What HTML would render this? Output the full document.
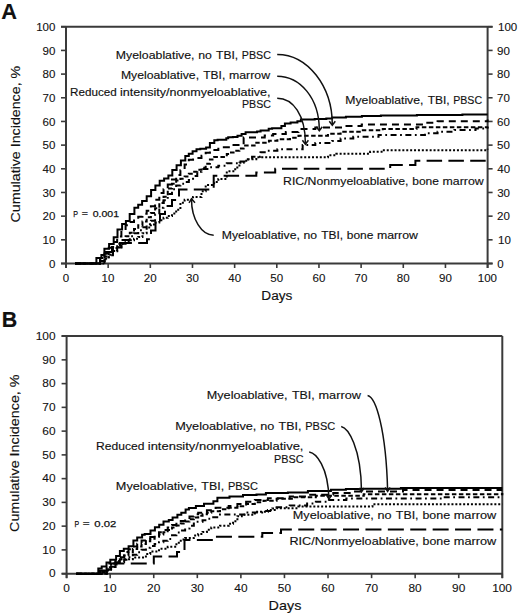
<!DOCTYPE html>
<html><head><meta charset="utf-8"><style>
html,body{margin:0;padding:0;background:#fff;width:520px;height:615px;overflow:hidden}
svg{display:block;font-family:"Liberation Sans",sans-serif}
text{stroke:#111;stroke-width:0.15px;paint-order:stroke}
text.n{stroke-width:0.1px}
text.b{stroke-width:0.25px}
</style></head><body>
<svg width="520" height="615" viewBox="0 0 520 615">
<rect width="520" height="615" fill="#fff"/>
<line x1="66" y1="26.8" x2="66" y2="268" stroke="#3a3a3a" stroke-width="2"/>
<line x1="61" y1="26.8" x2="492.6" y2="26.8" stroke="#3a3a3a" stroke-width="2"/>
<line x1="61" y1="263.5" x2="492.6" y2="263.5" stroke="#3a3a3a" stroke-width="2"/>
<line x1="487.6" y1="26.8" x2="487.6" y2="268" stroke="#3a3a3a" stroke-width="2"/>
<line x1="61" y1="263.5" x2="66" y2="263.5" stroke="#3a3a3a" stroke-width="1.6"/>
<line x1="487.6" y1="263.5" x2="492.6" y2="263.5" stroke="#3a3a3a" stroke-width="1.6"/>
<line x1="66" y1="263.5" x2="66" y2="268" stroke="#3a3a3a" stroke-width="1.6"/>
<line x1="61" y1="239.82" x2="66" y2="239.82" stroke="#3a3a3a" stroke-width="1.6"/>
<line x1="487.6" y1="239.82" x2="492.6" y2="239.82" stroke="#3a3a3a" stroke-width="1.6"/>
<line x1="108.16" y1="263.5" x2="108.16" y2="268" stroke="#3a3a3a" stroke-width="1.6"/>
<line x1="61" y1="216.15" x2="66" y2="216.15" stroke="#3a3a3a" stroke-width="1.6"/>
<line x1="487.6" y1="216.15" x2="492.6" y2="216.15" stroke="#3a3a3a" stroke-width="1.6"/>
<line x1="150.32" y1="263.5" x2="150.32" y2="268" stroke="#3a3a3a" stroke-width="1.6"/>
<line x1="61" y1="192.47" x2="66" y2="192.47" stroke="#3a3a3a" stroke-width="1.6"/>
<line x1="487.6" y1="192.47" x2="492.6" y2="192.47" stroke="#3a3a3a" stroke-width="1.6"/>
<line x1="192.48" y1="263.5" x2="192.48" y2="268" stroke="#3a3a3a" stroke-width="1.6"/>
<line x1="61" y1="168.8" x2="66" y2="168.8" stroke="#3a3a3a" stroke-width="1.6"/>
<line x1="487.6" y1="168.8" x2="492.6" y2="168.8" stroke="#3a3a3a" stroke-width="1.6"/>
<line x1="234.64" y1="263.5" x2="234.64" y2="268" stroke="#3a3a3a" stroke-width="1.6"/>
<line x1="61" y1="145.12" x2="66" y2="145.12" stroke="#3a3a3a" stroke-width="1.6"/>
<line x1="487.6" y1="145.12" x2="492.6" y2="145.12" stroke="#3a3a3a" stroke-width="1.6"/>
<line x1="276.8" y1="263.5" x2="276.8" y2="268" stroke="#3a3a3a" stroke-width="1.6"/>
<line x1="61" y1="121.45" x2="66" y2="121.45" stroke="#3a3a3a" stroke-width="1.6"/>
<line x1="487.6" y1="121.45" x2="492.6" y2="121.45" stroke="#3a3a3a" stroke-width="1.6"/>
<line x1="318.96" y1="263.5" x2="318.96" y2="268" stroke="#3a3a3a" stroke-width="1.6"/>
<line x1="61" y1="97.77" x2="66" y2="97.77" stroke="#3a3a3a" stroke-width="1.6"/>
<line x1="487.6" y1="97.77" x2="492.6" y2="97.77" stroke="#3a3a3a" stroke-width="1.6"/>
<line x1="361.12" y1="263.5" x2="361.12" y2="268" stroke="#3a3a3a" stroke-width="1.6"/>
<line x1="61" y1="74.1" x2="66" y2="74.1" stroke="#3a3a3a" stroke-width="1.6"/>
<line x1="487.6" y1="74.1" x2="492.6" y2="74.1" stroke="#3a3a3a" stroke-width="1.6"/>
<line x1="403.28" y1="263.5" x2="403.28" y2="268" stroke="#3a3a3a" stroke-width="1.6"/>
<line x1="61" y1="50.42" x2="66" y2="50.42" stroke="#3a3a3a" stroke-width="1.6"/>
<line x1="487.6" y1="50.42" x2="492.6" y2="50.42" stroke="#3a3a3a" stroke-width="1.6"/>
<line x1="445.44" y1="263.5" x2="445.44" y2="268" stroke="#3a3a3a" stroke-width="1.6"/>
<line x1="61" y1="26.75" x2="66" y2="26.75" stroke="#3a3a3a" stroke-width="1.6"/>
<line x1="487.6" y1="26.75" x2="492.6" y2="26.75" stroke="#3a3a3a" stroke-width="1.6"/>
<line x1="487.6" y1="263.5" x2="487.6" y2="268" stroke="#3a3a3a" stroke-width="1.6"/>
<text x="49.03" y="267.82" font-size="10.5" textLength="6.42" lengthAdjust="spacingAndGlyphs" fill="#111" class="n">0</text>
<text x="497.15" y="267.82" font-size="10.5" textLength="6.42" lengthAdjust="spacingAndGlyphs" fill="#111" class="n">0</text>
<text x="62.79" y="281.6" font-size="10.5" textLength="6.42" lengthAdjust="spacingAndGlyphs" fill="#111" class="n">0</text>
<text x="42.6" y="244.14" font-size="10.5" textLength="12.85" lengthAdjust="spacingAndGlyphs" fill="#111" class="n">10</text>
<text x="498.02" y="244.14" font-size="10.5" textLength="12.85" lengthAdjust="spacingAndGlyphs" fill="#111" class="n">10</text>
<text x="101.52" y="281.6" font-size="10.5" textLength="12.85" lengthAdjust="spacingAndGlyphs" fill="#111" class="n">10</text>
<text x="42.6" y="220.47" font-size="10.5" textLength="12.85" lengthAdjust="spacingAndGlyphs" fill="#111" class="n">20</text>
<text x="497.02" y="220.47" font-size="10.5" textLength="12.85" lengthAdjust="spacingAndGlyphs" fill="#111" class="n">20</text>
<text x="143.83" y="281.6" font-size="10.5" textLength="12.85" lengthAdjust="spacingAndGlyphs" fill="#111" class="n">20</text>
<text x="42.6" y="196.79" font-size="10.5" textLength="12.85" lengthAdjust="spacingAndGlyphs" fill="#111" class="n">30</text>
<text x="497.16" y="196.79" font-size="10.5" textLength="12.85" lengthAdjust="spacingAndGlyphs" fill="#111" class="n">30</text>
<text x="186.06" y="281.6" font-size="10.5" textLength="12.85" lengthAdjust="spacingAndGlyphs" fill="#111" class="n">30</text>
<text x="42.6" y="173.12" font-size="10.5" textLength="12.85" lengthAdjust="spacingAndGlyphs" fill="#111" class="n">40</text>
<text x="497.33" y="173.12" font-size="10.5" textLength="12.85" lengthAdjust="spacingAndGlyphs" fill="#111" class="n">40</text>
<text x="228.31" y="281.6" font-size="10.5" textLength="12.85" lengthAdjust="spacingAndGlyphs" fill="#111" class="n">40</text>
<text x="42.6" y="149.44" font-size="10.5" textLength="12.85" lengthAdjust="spacingAndGlyphs" fill="#111" class="n">50</text>
<text x="497.14" y="149.44" font-size="10.5" textLength="12.85" lengthAdjust="spacingAndGlyphs" fill="#111" class="n">50</text>
<text x="270.37" y="281.6" font-size="10.5" textLength="12.85" lengthAdjust="spacingAndGlyphs" fill="#111" class="n">50</text>
<text x="42.6" y="125.77" font-size="10.5" textLength="12.85" lengthAdjust="spacingAndGlyphs" fill="#111" class="n">60</text>
<text x="497.01" y="125.77" font-size="10.5" textLength="12.85" lengthAdjust="spacingAndGlyphs" fill="#111" class="n">60</text>
<text x="312.47" y="281.6" font-size="10.5" textLength="12.85" lengthAdjust="spacingAndGlyphs" fill="#111" class="n">60</text>
<text x="42.6" y="102.09" font-size="10.5" textLength="12.85" lengthAdjust="spacingAndGlyphs" fill="#111" class="n">70</text>
<text x="497.01" y="102.09" font-size="10.5" textLength="12.85" lengthAdjust="spacingAndGlyphs" fill="#111" class="n">70</text>
<text x="354.63" y="281.6" font-size="10.5" textLength="12.85" lengthAdjust="spacingAndGlyphs" fill="#111" class="n">70</text>
<text x="42.6" y="78.42" font-size="10.5" textLength="12.85" lengthAdjust="spacingAndGlyphs" fill="#111" class="n">80</text>
<text x="497.1" y="78.42" font-size="10.5" textLength="12.85" lengthAdjust="spacingAndGlyphs" fill="#111" class="n">80</text>
<text x="396.83" y="281.6" font-size="10.5" textLength="12.85" lengthAdjust="spacingAndGlyphs" fill="#111" class="n">80</text>
<text x="42.6" y="54.74" font-size="10.5" textLength="12.85" lengthAdjust="spacingAndGlyphs" fill="#111" class="n">90</text>
<text x="497.06" y="54.74" font-size="10.5" textLength="12.85" lengthAdjust="spacingAndGlyphs" fill="#111" class="n">90</text>
<text x="438.97" y="281.6" font-size="10.5" textLength="12.85" lengthAdjust="spacingAndGlyphs" fill="#111" class="n">90</text>
<text x="36.18" y="31.07" font-size="10.5" textLength="19.27" lengthAdjust="spacingAndGlyphs" fill="#111" class="n">100</text>
<text x="498.02" y="31.07" font-size="10.5" textLength="19.27" lengthAdjust="spacingAndGlyphs" fill="#111" class="n">100</text>
<text x="477.75" y="281.6" font-size="10.5" textLength="19.27" lengthAdjust="spacingAndGlyphs" fill="#111" class="n">100</text>
<text x="1.36" y="18.5" font-size="21.8" font-weight="bold" textLength="15.72" lengthAdjust="spacingAndGlyphs" fill="#111">A</text>
<text x="261.38" y="300" font-size="12.5" textLength="31.01" lengthAdjust="spacingAndGlyphs" fill="#111">Days</text>
<text transform="rotate(-90)" x="-222.42" y="19.9" font-size="13" textLength="156.63" lengthAdjust="spacingAndGlyphs" fill="#111">Cumulative Incidence, %</text>
<line x1="66.6" y1="336" x2="66.6" y2="578.15" stroke="#3a3a3a" stroke-width="2"/>
<line x1="61.6" y1="336" x2="502.3" y2="336" stroke="#3a3a3a" stroke-width="2"/>
<line x1="61.6" y1="573.65" x2="502.3" y2="573.65" stroke="#3a3a3a" stroke-width="2"/>
<line x1="502.3" y1="336" x2="502.3" y2="578.15" stroke="#3a3a3a" stroke-width="2"/>
<line x1="61.6" y1="573.65" x2="66.6" y2="573.65" stroke="#3a3a3a" stroke-width="1.6"/>
<line x1="66.6" y1="573.65" x2="66.6" y2="578.15" stroke="#3a3a3a" stroke-width="1.6"/>
<line x1="61.6" y1="549.89" x2="66.6" y2="549.89" stroke="#3a3a3a" stroke-width="1.6"/>
<line x1="110.17" y1="573.65" x2="110.17" y2="578.15" stroke="#3a3a3a" stroke-width="1.6"/>
<line x1="61.6" y1="526.14" x2="66.6" y2="526.14" stroke="#3a3a3a" stroke-width="1.6"/>
<line x1="153.74" y1="573.65" x2="153.74" y2="578.15" stroke="#3a3a3a" stroke-width="1.6"/>
<line x1="61.6" y1="502.38" x2="66.6" y2="502.38" stroke="#3a3a3a" stroke-width="1.6"/>
<line x1="197.31" y1="573.65" x2="197.31" y2="578.15" stroke="#3a3a3a" stroke-width="1.6"/>
<line x1="61.6" y1="478.63" x2="66.6" y2="478.63" stroke="#3a3a3a" stroke-width="1.6"/>
<line x1="240.88" y1="573.65" x2="240.88" y2="578.15" stroke="#3a3a3a" stroke-width="1.6"/>
<line x1="61.6" y1="454.88" x2="66.6" y2="454.88" stroke="#3a3a3a" stroke-width="1.6"/>
<line x1="284.45" y1="573.65" x2="284.45" y2="578.15" stroke="#3a3a3a" stroke-width="1.6"/>
<line x1="61.6" y1="431.12" x2="66.6" y2="431.12" stroke="#3a3a3a" stroke-width="1.6"/>
<line x1="328.02" y1="573.65" x2="328.02" y2="578.15" stroke="#3a3a3a" stroke-width="1.6"/>
<line x1="61.6" y1="407.36" x2="66.6" y2="407.36" stroke="#3a3a3a" stroke-width="1.6"/>
<line x1="371.59" y1="573.65" x2="371.59" y2="578.15" stroke="#3a3a3a" stroke-width="1.6"/>
<line x1="61.6" y1="383.61" x2="66.6" y2="383.61" stroke="#3a3a3a" stroke-width="1.6"/>
<line x1="415.16" y1="573.65" x2="415.16" y2="578.15" stroke="#3a3a3a" stroke-width="1.6"/>
<line x1="61.6" y1="359.85" x2="66.6" y2="359.85" stroke="#3a3a3a" stroke-width="1.6"/>
<line x1="458.73" y1="573.65" x2="458.73" y2="578.15" stroke="#3a3a3a" stroke-width="1.6"/>
<line x1="61.6" y1="336.1" x2="66.6" y2="336.1" stroke="#3a3a3a" stroke-width="1.6"/>
<line x1="502.3" y1="573.65" x2="502.3" y2="578.15" stroke="#3a3a3a" stroke-width="1.6"/>
<text x="48.96" y="577.47" font-size="10.8" textLength="6.61" lengthAdjust="spacingAndGlyphs" fill="#111" class="n">0</text>
<text x="63.3" y="591.5" font-size="10.8" textLength="6.61" lengthAdjust="spacingAndGlyphs" fill="#111" class="n">0</text>
<text x="42.35" y="553.72" font-size="10.8" textLength="13.21" lengthAdjust="spacingAndGlyphs" fill="#111" class="n">10</text>
<text x="103.34" y="591.5" font-size="10.8" textLength="13.21" lengthAdjust="spacingAndGlyphs" fill="#111" class="n">10</text>
<text x="42.35" y="529.96" font-size="10.8" textLength="13.21" lengthAdjust="spacingAndGlyphs" fill="#111" class="n">20</text>
<text x="147.07" y="591.5" font-size="10.8" textLength="13.21" lengthAdjust="spacingAndGlyphs" fill="#111" class="n">20</text>
<text x="42.35" y="506.21" font-size="10.8" textLength="13.21" lengthAdjust="spacingAndGlyphs" fill="#111" class="n">30</text>
<text x="190.71" y="591.5" font-size="10.8" textLength="13.21" lengthAdjust="spacingAndGlyphs" fill="#111" class="n">30</text>
<text x="42.35" y="482.45" font-size="10.8" textLength="13.21" lengthAdjust="spacingAndGlyphs" fill="#111" class="n">40</text>
<text x="234.37" y="591.5" font-size="10.8" textLength="13.21" lengthAdjust="spacingAndGlyphs" fill="#111" class="n">40</text>
<text x="42.35" y="458.7" font-size="10.8" textLength="13.21" lengthAdjust="spacingAndGlyphs" fill="#111" class="n">50</text>
<text x="277.84" y="591.5" font-size="10.8" textLength="13.21" lengthAdjust="spacingAndGlyphs" fill="#111" class="n">50</text>
<text x="42.35" y="434.94" font-size="10.8" textLength="13.21" lengthAdjust="spacingAndGlyphs" fill="#111" class="n">60</text>
<text x="321.34" y="591.5" font-size="10.8" textLength="13.21" lengthAdjust="spacingAndGlyphs" fill="#111" class="n">60</text>
<text x="42.35" y="411.19" font-size="10.8" textLength="13.21" lengthAdjust="spacingAndGlyphs" fill="#111" class="n">70</text>
<text x="364.91" y="591.5" font-size="10.8" textLength="13.21" lengthAdjust="spacingAndGlyphs" fill="#111" class="n">70</text>
<text x="42.35" y="387.43" font-size="10.8" textLength="13.21" lengthAdjust="spacingAndGlyphs" fill="#111" class="n">80</text>
<text x="408.53" y="591.5" font-size="10.8" textLength="13.21" lengthAdjust="spacingAndGlyphs" fill="#111" class="n">80</text>
<text x="42.35" y="363.68" font-size="10.8" textLength="13.21" lengthAdjust="spacingAndGlyphs" fill="#111" class="n">90</text>
<text x="452.08" y="591.5" font-size="10.8" textLength="13.21" lengthAdjust="spacingAndGlyphs" fill="#111" class="n">90</text>
<text x="35.74" y="339.92" font-size="10.8" textLength="19.82" lengthAdjust="spacingAndGlyphs" fill="#111" class="n">100</text>
<text x="492.17" y="591.5" font-size="10.8" textLength="19.82" lengthAdjust="spacingAndGlyphs" fill="#111" class="n">100</text>
<text x="1.66" y="326.9" font-size="21.8" font-weight="bold" textLength="15.51" lengthAdjust="spacingAndGlyphs" fill="#111">B</text>
<text x="268.62" y="609.5" font-size="12.9" textLength="32.7" lengthAdjust="spacingAndGlyphs" fill="#111">Days</text>
<text transform="rotate(-90)" x="-531.93" y="19.3" font-size="13.3" textLength="157.44" lengthAdjust="spacingAndGlyphs" fill="#111">Cumulative Incidence, %</text>
<path d="M75 263.5L100 263.5L100 258L106 258L106 252L112 252L112 247L120 247L120 243L147 243L147 239.2L151 239.2L151 230.5L155.5 230.5L155.5 222.5L160 222.5L160 214L165 214L165 206L172 206L172 200L179 200L179 189.6L213.7 189.6L213.7 175.8L256.3 175.8L256.3 172.5L275.2 172.5L275.2 168.8L390.2 168.8L390.2 165.1L415.4 165.1L415.4 160.8L487.6 160.8" fill="none" stroke="#000" stroke-width="2" stroke-dasharray="15.5 6.3" stroke-dashoffset="3.5"/>
<path d="M75 263.5H104.51V258.56H108.73V254.85H112.94V250.97H117.16V247.28H121.38V244.05H125.59V242.11H129.81V240.32H134.02V238.74H138.24V236.93H142.46V233.2H146.67V227.52H150.89V224.46H155.1V222.39H159.32V220.15H163.54V217.84H167.75V215.92H171.97V213.61H176.18V209.72H180.4V202.68H184.62V199.86H193.05V196.89H201.48V191.33H205.7V184.95H214.13V181.94H218.34V178.88H226.78V171.25H235.21V167.41H239.42V162.65H243.64V160.73H247.86V159.25H256.29V157.31H327.96V155.21H336.39V153.73H370.12V151.78H382.77V150.14H487.6V148.8" fill="none" stroke="#000" stroke-width="2" stroke-dasharray="2 1.9"/>
<path d="M75 263.5H104.51V259.36H108.73V255.27H112.94V251.17H117.16V247.49H121.38V243.76H125.59V239.97H129.81V236.17H134.02V233.18H138.24V230.23H142.46V227.28H146.67V224.33H150.89V220.67H155.1V214.34H159.32V207.69H163.54V200.31H167.75V194.05H171.97V189.37H176.18V185.49H180.4V183.69H184.62V181.88H188.83V180.07H193.05V175.95H197.26V171.8H201.48V168.9H209.91V167.22H218.34V165.81H226.78V163.33H239.42V161.59H247.86V158.57H252.07V156.79H260.5V152.25H264.72V150.83H277.37V149.37H302.66V145H315.31V142.94H332.18V140.98H340.61V138.4H353.26V136.67H378.55V135.07H424.93V133.23H437.58V131.78H454.44V130.06H475.52V128.51H487.6V127.5" fill="none" stroke="#000" stroke-width="2" stroke-dasharray="6 3.5 1.8 3.5"/>
<path d="M75 263.5H100.3V261.01H104.51V256.49H108.73V252.27H112.94V248.06H117.16V243.84H121.38V240.05H125.59V236.36H129.81V232.67H134.02V228.98H138.24V225.29H142.46V221.54H146.67V217.33H150.89V213H155.1V208.26H159.32V203.02H163.54V196.7H167.75V188.57H171.97V183.69H176.18V180.48H180.4V178.64H184.62V176.46H188.83V173.75H193.05V171.69H197.26V169.87H201.48V167.76H205.7V163.76H209.91V159.47H214.13V156.92H226.78V154.08H230.99V152.54H235.21V150.78H239.42V148.39H243.64V145.62H256.29V142.68H268.94V140.81H277.37V139.26H290.02V137.7H298.45V135.63H327.96V133.73H340.61V131.76H361.69V130.28H382.77V128.88H416.5V127.36H487.6V126.4" fill="none" stroke="#000" stroke-width="2" stroke-dasharray="4.5 2.5"/>
<path d="M75 263.5H100.3V258.64H104.51V253.59H108.73V247.78H112.94V242.07H117.16V236.42H121.38V230.67H125.59V225.36H129.81V221.96H134.02V219.27H138.24V216.83H142.46V213.82H146.67V210.75H150.89V206.17H155.1V199.83H159.32V193.09H163.54V189.17H167.75V184.61H171.97V179.5H176.18V175H180.4V170.13H184.62V164.51H188.83V159.78H193.05V157.93H201.48V155.75H205.7V152.86H209.91V149.91H218.34V147.33H230.99V145.03H243.64V137.49H264.72V135.4H273.15V133.99H285.8V132.07H298.45V129.02H315.31V127.52H344.82V126.01H361.69V124.46H424.93V122.81H437.58V121.29H487.6V119.5" fill="none" stroke="#000" stroke-width="2" stroke-dasharray="7 5"/>
<path d="M75 263.5H96.4V257.9H101.4V254.9H104.4V248.7H109.1V244.1H113.7V237.2H117.5V229.5H122.1V224H125.9V220.9H129.7V214H134.4V207.8H138.2V204.7H142.1V200.9H146.7V196.3H151.1V189.9H155.4V185.5H159.7V180.7H164.1V178.6H168.4V175.6H172.3V169.9H176.6V165.2H180.9V160.4H185.3V156.1H188.8V153.7H192.6V151.3H196.5V149.3H200.3V148.7H206.1V147.4H209.9V143.1H214.3V140.2H217.6V139.7H226.3V138.3H228.2V137.3H232.9V136.9H237.5V135.7H241.6V134H245.6V132.2H257.1V131.4H260.6V130.5H268.7V128.8H272.1V128.2H281.4V125.9H284.9V123.6H290.6V122.4H297.4V121.3H300.9V119.5H314.7V119H326.3V118.4H332.1V117.5H345.9V116.7H361.9V116H380.9V115.5H416.9V115H462.4V114.5H487.6" fill="none" stroke="#000" stroke-width="2"/>
<path d="M76.2 573.65L100 573.65L100 570.5L108 570.5L108 563.5L153.8 563.5L153.8 556.5L177 556.5L177 552L184.5 552L184.5 540L215 540L215 536.7L262.3 536.7L262.3 533L281 533L281 529.4L502.3 529.4" fill="none" stroke="#000" stroke-width="2" stroke-dasharray="16 6.4" stroke-dashoffset="2.5"/>
<path d="M76.2 573.65H102.34V571.51H106.7V567.3H111.06V563.41H115.41V560.96H119.77V559.19H132.84V557.57H145.91V554H150.27V551.42H158.98V548.77H167.7V546.84H176.41V542.67H180.77V539.58H185.12V538.04H193.84V535.59H198.2V534.01H202.55V531.99H206.91V529.76H211.27V527.52H219.98V525.76H228.69V523.71H233.05V521.24H237.41V516.16H241.77V514.71H254.84V511.76H267.91V509.88H276.62V508.2H298.41V506.59H372.48V504.3H502.3" fill="none" stroke="#000" stroke-width="2" stroke-dasharray="2 1.9"/>
<path d="M76.2 573.65H106.7V569.15H111.06V566.97H115.41V564.58H119.77V562.13H124.13V559.73H128.48V557.33H132.84V554.8H137.2V552.18H141.56V549.8H145.91V547.84H150.27V545.88H154.63V544.02H158.98V542.31H163.34V540.78H167.7V538.91H172.05V535.22H176.41V532.6H180.77V530.51H185.12V528.4H189.48V525.69H193.84V521.84H202.55V520.21H206.91V518.75H211.27V517.28H219.98V514.61H246.12V512.47H263.55V511.05H272.27V508.58H276.62V507.13H289.69V505.52H307.12V503.53H315.84V501.85H328.91V500.02H346.33V498.59H442.19V497.18H502.3" fill="none" stroke="#000" stroke-width="2" stroke-dasharray="6 3.5 1.8 3.5"/>
<path d="M76.2 573.65H106.7V569.53H111.06V566.63H115.41V563.07H119.77V559.34H124.13V555.61H128.48V552.23H132.84V549.11H137.2V546.6H141.56V544.03H145.91V541.3H150.27V538.87H154.63V536.69H158.98V534.51H163.34V532.33H167.7V529.92H172.05V527.48H176.41V525.57H180.77V523.62H185.12V521.44H189.48V519.26H193.84V517.46H198.2V515.72H202.55V514.15H206.91V512.7H211.27V511.24H219.98V509.34H228.69V507.72H237.41V506.15H246.12V503.97H254.84V502.15H263.55V500.63H276.62V498.84H294.05V497.23H315.84V495.78H363.76V494.34H502.3V493" fill="none" stroke="#000" stroke-width="2" stroke-dasharray="4.5 2.5"/>
<path d="M76.2 573.65H102.34V572.1H106.7V569.5H111.06V566.18H115.41V562.24H119.77V557.26H124.13V551.91H128.48V549.33H132.84V546.58H137.2V543.7H141.56V540.45H145.91V538.67H150.27V536.96H158.98V532.27H163.34V530H167.7V527.61H172.05V524.97H176.41V522.85H180.77V521.12H185.12V518.94H189.48V516.57H193.84V514.14H198.2V512.64H206.91V510.28H215.62V507.84H228.69V505.88H237.41V503.99H246.12V501.8H254.84V499.96H267.91V498.15H289.69V496.39H307.12V494.64H333.26V493.12H355.05V491.43H402.98V489.99H502.3" fill="none" stroke="#000" stroke-width="2" stroke-dasharray="7 5"/>
<path d="M76.2 573.65H98.3V568.4H101.7V566.5H106.5V562.6H110.3V559.7H116.1V555.9H119.9V551.1H123.8V548.7H128.6V546.3H133.4V540.5H137.2V537.6H142.1V534.7H144.7V533.9H150.5V530.5H154.9V527.2H159.2V524.7H163.5V521.4H168.8V519.9H172.6V517.5H177.4V514.7H181.3V512.7H185.6V509.4H188.9V507.9H195.9V505.9H204V503.8H213.4V501.2H217.4V497.8H229.5V496.4H243V495.1H256.5V494.4H265.9V493.1H287.9V492.4H307.9V491.1H330.9V489.7H345.9V489.1H360.9V488.7H400.9V488H502.3" fill="none" stroke="#000" stroke-width="2"/>
<path d="M277.2 54.4C307.5 54.4 332.3 86.1 332.3 124.5" fill="none" stroke="#111" stroke-width="1.5"/>
<path d="M277.2 76.2C300 76.2 319.3 98 319.3 130" fill="none" stroke="#111" stroke-width="1.5"/>
<path d="M277.2 98.3C293 98.3 305.4 115 305.4 143.5" fill="none" stroke="#111" stroke-width="1.5"/>
<path d="M213.7 235.2C201.5 235.2 191.5 218.9 191.5 199.5" fill="none" stroke="#111" stroke-width="1.5"/>
<path d="M329.3 121.2L332.3 125.2L335.3 121.2" fill="none" stroke="#111" stroke-width="1.5"/>
<path d="M316.3 126.80000000000001L319.3 130.8L322.3 126.80000000000001" fill="none" stroke="#111" stroke-width="1.5"/>
<path d="M302.4 140.3L305.4 144.3L308.4 140.3" fill="none" stroke="#111" stroke-width="1.5"/>
<path d="M189.0 202.8L191.5 198.8L195.0 202.8" fill="none" stroke="#111" stroke-width="1.5"/>
<path d="M367.6 395.4C376 397 386 430 387.6 490" fill="none" stroke="#111" stroke-width="1.5"/>
<path d="M341.2 426.5C348 428 361 447 361.5 491" fill="none" stroke="#111" stroke-width="1.5"/>
<path d="M309.2 451.9C315.8 452.9 328.3 466.2 328.9 499" fill="none" stroke="#111" stroke-width="1.5"/>
<path d="M326.4 495.2L329.0 499.2L331.6 495.2" fill="none" stroke="#111" stroke-width="1.4"/>
<path d="M358.9 488.0L361.5 492.0L364.1 488.0" fill="none" stroke="#111" stroke-width="1.4"/>
<path d="M385.0 487.5L387.6 491.5L390.20000000000005 487.5" fill="none" stroke="#111" stroke-width="1.4"/>
<text x="115.89" y="58.8" font-size="11" textLength="78.68" lengthAdjust="spacingAndGlyphs" fill="#111">Myeloablative,</text>
<text x="198.3" y="58.8" font-size="11" textLength="13.66" lengthAdjust="spacingAndGlyphs" fill="#111">no</text>
<text x="216.06" y="58.8" font-size="11" textLength="22.08" lengthAdjust="spacingAndGlyphs" fill="#111">TBI,</text>
<text x="241.82" y="58.8" font-size="11" textLength="29.08" lengthAdjust="spacingAndGlyphs" fill="#111">PBSC</text>
<text x="120.9" y="78.8" font-size="11" textLength="78.17" lengthAdjust="spacingAndGlyphs" fill="#111">Myeloablative,</text>
<text x="203.31" y="78.8" font-size="11" textLength="21.94" lengthAdjust="spacingAndGlyphs" fill="#111">TBI,</text>
<text x="228.96" y="78.8" font-size="11" textLength="41.11" lengthAdjust="spacingAndGlyphs" fill="#111">marrow</text>
<text x="70.04" y="95.7" font-size="11" textLength="46.67" lengthAdjust="spacingAndGlyphs" fill="#111">Reduced</text>
<text x="119.98" y="95.7" font-size="11" textLength="150.49" lengthAdjust="spacingAndGlyphs" fill="#111">intensity/nonmyeloablative,</text>
<text x="242.03" y="107.7" font-size="11" textLength="28.98" lengthAdjust="spacingAndGlyphs" fill="#111">PBSC</text>
<text x="345.3" y="104" font-size="11" textLength="78.11" lengthAdjust="spacingAndGlyphs" fill="#111">Myeloablative,</text>
<text x="427.65" y="104" font-size="11" textLength="21.92" lengthAdjust="spacingAndGlyphs" fill="#111">TBI,</text>
<text x="453.23" y="104" font-size="11" textLength="28.87" lengthAdjust="spacingAndGlyphs" fill="#111">PBSC</text>
<text x="73.21" y="217" font-size="9.5" textLength="4.76" lengthAdjust="spacingAndGlyphs" fill="#111" class="b">P</text>
<text x="81.69" y="215.9" font-size="9.5" textLength="6.13" lengthAdjust="spacingAndGlyphs" fill="#111" class="b">=</text>
<text x="92.69" y="217" font-size="9.5" textLength="26.32" lengthAdjust="spacingAndGlyphs" fill="#111" class="b">0.001</text>
<text x="221.8" y="239" font-size="11" textLength="78.05" lengthAdjust="spacingAndGlyphs" fill="#111">Myeloablative,</text>
<text x="303.54" y="239" font-size="11" textLength="13.55" lengthAdjust="spacingAndGlyphs" fill="#111">no</text>
<text x="321.16" y="239" font-size="11" textLength="21.9" lengthAdjust="spacingAndGlyphs" fill="#111">TBI,</text>
<text x="346.82" y="239" font-size="11" textLength="26.61" lengthAdjust="spacingAndGlyphs" fill="#111">bone</text>
<text x="376.93" y="239" font-size="11" textLength="41.04" lengthAdjust="spacingAndGlyphs" fill="#111">marrow</text>
<text x="283.09" y="185" font-size="11" textLength="125.43" lengthAdjust="spacingAndGlyphs" fill="#111">RIC/Nonmyeloablative,</text>
<text x="412.27" y="185" font-size="11" textLength="26.72" lengthAdjust="spacingAndGlyphs" fill="#111">bone</text>
<text x="442.5" y="185" font-size="11" textLength="41.22" lengthAdjust="spacingAndGlyphs" fill="#111">marrow</text>
<text x="206.76" y="398.8" font-size="11.35" textLength="80.81" lengthAdjust="spacingAndGlyphs" fill="#111">Myeloablative,</text>
<text x="291.96" y="398.8" font-size="11.35" textLength="22.68" lengthAdjust="spacingAndGlyphs" fill="#111">TBI,</text>
<text x="318.47" y="398.8" font-size="11.35" textLength="42.49" lengthAdjust="spacingAndGlyphs" fill="#111">marrow</text>
<text x="175.16" y="430" font-size="11.35" textLength="81.24" lengthAdjust="spacingAndGlyphs" fill="#111">Myeloablative,</text>
<text x="260.25" y="430" font-size="11.35" textLength="14.1" lengthAdjust="spacingAndGlyphs" fill="#111">no</text>
<text x="278.58" y="430" font-size="11.35" textLength="22.8" lengthAdjust="spacingAndGlyphs" fill="#111">TBI,</text>
<text x="305.19" y="430" font-size="11.35" textLength="30.03" lengthAdjust="spacingAndGlyphs" fill="#111">PBSC</text>
<text x="96.11" y="450.4" font-size="11.35" textLength="48.29" lengthAdjust="spacingAndGlyphs" fill="#111">Reduced</text>
<text x="147.78" y="450.4" font-size="11.35" textLength="155.71" lengthAdjust="spacingAndGlyphs" fill="#111">intensity/nonmyeloablative,</text>
<text x="274.01" y="462.6" font-size="11.35" textLength="29.5" lengthAdjust="spacingAndGlyphs" fill="#111">PBSC</text>
<text x="115.86" y="490" font-size="11.35" textLength="81.11" lengthAdjust="spacingAndGlyphs" fill="#111">Myeloablative,</text>
<text x="201.37" y="490" font-size="11.35" textLength="22.76" lengthAdjust="spacingAndGlyphs" fill="#111">TBI,</text>
<text x="227.94" y="490" font-size="11.35" textLength="29.98" lengthAdjust="spacingAndGlyphs" fill="#111">PBSC</text>
<text x="74.43" y="527" font-size="9.8" textLength="4.64" lengthAdjust="spacingAndGlyphs" fill="#111" class="b">P</text>
<text x="82.73" y="525.9" font-size="9.8" textLength="6.85" lengthAdjust="spacingAndGlyphs" fill="#111" class="b">=</text>
<text x="94.36" y="527" font-size="9.8" textLength="22.01" lengthAdjust="spacingAndGlyphs" fill="#111" class="b">0.02</text>
<text x="292.76" y="519.3" font-size="11.35" textLength="80.97" lengthAdjust="spacingAndGlyphs" fill="#111">Myeloablative,</text>
<text x="377.56" y="519.3" font-size="11.35" textLength="14.06" lengthAdjust="spacingAndGlyphs" fill="#111">no</text>
<text x="395.84" y="519.3" font-size="11.35" textLength="22.72" lengthAdjust="spacingAndGlyphs" fill="#111">TBI,</text>
<text x="422.46" y="519.3" font-size="11.35" textLength="27.6" lengthAdjust="spacingAndGlyphs" fill="#111">bone</text>
<text x="453.69" y="519.3" font-size="11.35" textLength="42.58" lengthAdjust="spacingAndGlyphs" fill="#111">marrow</text>
<text x="289.46" y="544.5" font-size="11.35" textLength="129.29" lengthAdjust="spacingAndGlyphs" fill="#111">RIC/Nonmyeloablative,</text>
<text x="422.62" y="544.5" font-size="11.35" textLength="27.54" lengthAdjust="spacingAndGlyphs" fill="#111">bone</text>
<text x="453.78" y="544.5" font-size="11.35" textLength="42.49" lengthAdjust="spacingAndGlyphs" fill="#111">marrow</text>
</svg>
</body></html>
